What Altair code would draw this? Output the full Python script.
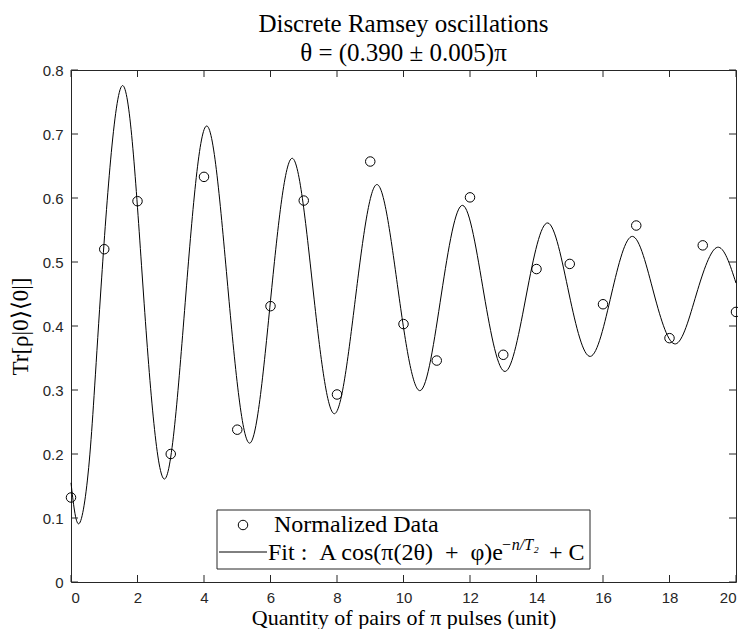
import altair as alt
import pandas as pd

# ---- data ----
n_data = list(range(21))
y_data = [0.132, 0.520, 0.595, 0.200, 0.633, 0.238, 0.431, 0.596, 0.293, 0.657,
          0.403, 0.346, 0.601, 0.355, 0.489, 0.497, 0.434, 0.557, 0.381, 0.526, 0.422]

# fit curve: readings at start, troughs, mid-crossings, peaks, end
fit_n = [0.0, 0.24, 0.55, 0.89, 1.54, 2.18, 2.82, 3.455, 4.09, 4.735, 5.38, 6.02, 6.66,
         7.295, 7.93, 8.57, 9.21, 9.855, 10.50, 11.14, 11.78, 12.42, 13.06, 13.70,
         14.34, 14.98, 15.62, 16.255, 16.89, 17.535, 18.18, 18.81, 19.44, 20.0]
fit_y = [0.155, 0.091, 0.189, 0.45, 0.7755, 0.45, 0.161, 0.45, 0.7125, 0.45, 0.217, 0.45,
         0.662, 0.45, 0.263, 0.45, 0.621, 0.45, 0.299, 0.45, 0.5885, 0.45, 0.329,
         0.45, 0.561, 0.45, 0.3525, 0.45, 0.540, 0.45, 0.372, 0.45, 0.523, 0.467]

x_ticks = [0, 2, 4, 6, 8, 10, 12, 14, 16, 18, 20]
y_ticks = [0.0, 0.1, 0.2, 0.3, 0.4, 0.5, 0.6, 0.7, 0.8]

title_lines = ["Discrete Ramsey oscillations", "θ = (0.390 ± 0.005)π"]
x_title = "Quantity of pairs of π pulses (unit)"
y_title = "Tr[ρ|0⟩⟨0|]"
legend_data = "Normalized Data"
NB = "\u00a0"
legend_fit_main = f"Fit :{NB}{NB}A cos(π(2θ){NB} +{NB} φ)e"
legend_fit_sup = "−n/T₂"
legend_fit_end = "+ C"

# ---- layout ----
W, H = 665, 512
AX = "#262626"
SERIF = "Liberation Serif"
SANS = "Liberation Sans"

xsc = alt.Scale(domain=[0, 20], nice=False, zero=False)
ysc = alt.Scale(domain=[0, 0.8], nice=False)

x_axis = alt.Axis(values=x_ticks, format="d", grid=False, ticks=False, tickSize=0,
                  domain=False, labelFont=SANS, labelFontSize=15, labelColor=AX,
                  labelPadding=8, title=x_title, titleFont=SERIF, titleFontSize=22,
                  titleFontWeight="normal", titleColor="black",
                  titleX=W / 2, titleY=42, titleBaseline="alphabetic",
                  titleAlign="center")
y_axis = alt.Axis(values=y_ticks, format="~g", grid=False, ticks=False, tickSize=0,
                  domain=False, labelFont=SANS, labelFontSize=15, labelColor=AX,
                  labelPadding=8, title=y_title, titleFont=SERIF, titleFontSize=23,
                  titleFontWeight="normal", titleColor="black",
                  titleX=-44, titleY=H / 2, titleAngle=270,
                  titleBaseline="alphabetic", titleAlign="center")

fit_df = pd.DataFrame({"n": fit_n, "p": fit_y})
data_df = pd.DataFrame({"n": n_data, "p": y_data})
xt_df = pd.DataFrame({"n": x_ticks})
yt_df = pd.DataFrame({"p": y_ticks})
one = pd.DataFrame({"k": [0]})

X = alt.X("n:Q", scale=xsc, axis=x_axis)
Y = alt.Y("p:Q", scale=ysc, axis=y_axis)

fit = alt.Chart(fit_df).mark_line(color="black", strokeWidth=1, interpolate="natural").encode(
    x=X, y=Y)
pts = alt.Chart(data_df).mark_point(shape="circle", filled=False, size=90, color="black",
                                    strokeWidth=1, opacity=1).encode(x=X, y=Y)

TK = 7
tick_bottom = alt.Chart(xt_df).mark_rule(color=AX, strokeWidth=1).encode(
    x=X, y=alt.value(H), y2=alt.value(H - TK))
tick_top = alt.Chart(xt_df).mark_rule(color=AX, strokeWidth=1).encode(
    x=X, y=alt.value(0), y2=alt.value(TK))
tick_left = alt.Chart(yt_df).mark_rule(color=AX, strokeWidth=1).encode(
    y=Y, x=alt.value(0), x2=alt.value(TK))
tick_right = alt.Chart(yt_df).mark_rule(color=AX, strokeWidth=1).encode(
    y=Y, x=alt.value(W), x2=alt.value(W - TK))

# ---- legend (drawn by hand, positions in plot pixels) ----
box = alt.Chart(one).mark_rect(fill="white", stroke=AX, strokeWidth=1).encode(
    x=alt.value(146), x2=alt.value(519), y=alt.value(440), y2=alt.value(499))
leg_circle = alt.Chart(one).mark_point(shape="circle", filled=False, size=90,
                                       color="black", strokeWidth=1, opacity=1).encode(
    x=alt.value(172), y=alt.value(455))
leg_line = alt.Chart(one).mark_rule(color="black", strokeWidth=1).encode(
    x=alt.value(148), x2=alt.value(196), y=alt.value(482))
txt_kw = dict(align="left", baseline="alphabetic", font=SERIF, color="black")
leg_t1 = alt.Chart(one).mark_text(fontSize=24, **txt_kw).encode(
    x=alt.value(203), y=alt.value(462), text=alt.value(legend_data))
leg_t2 = alt.Chart(one).mark_text(fontSize=24, **txt_kw).encode(
    x=alt.value(197), y=alt.value(490), text=alt.value(legend_fit_main))
leg_t3 = alt.Chart(one).mark_text(fontSize=16, fontStyle="italic", **txt_kw).encode(
    x=alt.value(430), y=alt.value(480), text=alt.value(legend_fit_sup))
leg_t4 = alt.Chart(one).mark_text(fontSize=24, **txt_kw).encode(
    x=alt.value(478), y=alt.value(490), text=alt.value(legend_fit_end))

chart = alt.layer(
    fit, pts, tick_bottom, tick_top, tick_left, tick_right,
    box, leg_circle, leg_line, leg_t1, leg_t2, leg_t3, leg_t4,
).properties(
    width=W, height=H,
    autosize=alt.AutoSizeParams(type="none"),
    padding={"left": 63, "top": 62, "right": 2, "bottom": 47},
    title=alt.Title(title_lines, font=SERIF, fontSize=25, fontWeight="normal",
                    color="black", anchor="middle", frame="group", offset=-3,
                    lineHeight=29),
).configure_view(stroke=AX, strokeWidth=1)

chart.save("out.html", embed_options={"renderer": "svg", "actions": False})
